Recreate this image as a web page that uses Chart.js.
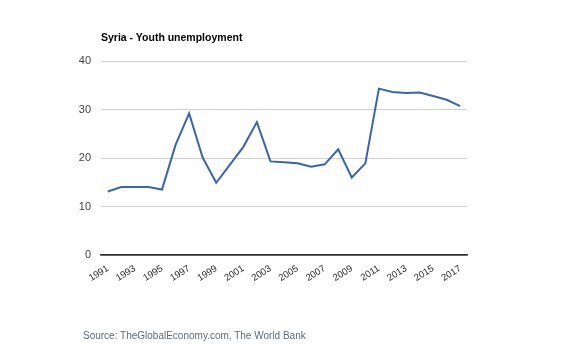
<!DOCTYPE html>
<html>
<head>
<meta charset="utf-8">
<script src="https://cdn.jsdelivr.net/npm/chart.js@4"></script>
<style>
  html, body { margin: 0; padding: 0; background: #fff; }
  #wrap { position: relative; width: 568px; height: 355px; }
  #title { position: absolute; left: 101px; top: 31px; font: bold 10.5px "Liberation Sans", Arial, sans-serif; color: #000; white-space: nowrap; }
  #source { position: absolute; left: 83px; top: 330px; font: 10px "Liberation Sans", Arial, sans-serif; color: #5f6b77; white-space: nowrap; }
</style>
</head>
<body>
<div id="wrap">
  <canvas id="c" width="568" height="355"></canvas>
  <div id="title">Syria - Youth unemployment</div>
  <div id="source">Source: TheGlobalEconomy.com, The World Bank</div>
</div>
<script>
const years = ["1991","1992","1993","1994","1995","1996","1997","1998","1999","2000","2001","2002","2003","2004","2005","2006","2007","2008","2009","2010","2011","2012","2013","2014","2015","2016","2017"];
const youthUnemployment = [13.1, 14.0, 14.0, 14.0, 13.5, 22.7, 29.2, 20.1, 14.9, 18.6, 22.3, 27.4, 19.3, 19.1, 18.9, 18.2, 18.7, 21.8, 16.0, 18.9, 34.3, 33.6, 33.4, 33.5, 32.8, 32.0, 30.7];
const yTicks = [0, 10, 20, 30, 40];

new Chart(document.getElementById('c'), {
  type: 'line',
  data: {
    labels: years,
    datasets: [{
      data: youthUnemployment,
      borderColor: '#3a64ad',
      borderWidth: 2,
      pointRadius: 0,
      tension: 0,
      fill: false
    }]
  },
  options: {
    responsive: false,
    animation: false,
    layout: { padding: { left: 71, right: 101, top: 61, bottom: 55 } },
    plugins: { legend: { display: false }, tooltip: { enabled: false }, title: { display: false } },
    scales: {
      x: {
        offset: true,
        grid: { display: false, drawTicks: false },
        border: { display: true, color: '#333', width: 1.5 },
        afterFit: (s) => { s.height = 45; },
        ticks: {
          autoSkip: false,
          minRotation: 32,
          maxRotation: 32,
          padding: 8,
          color: '#222',
          font: { family: '"Liberation Sans", Arial, sans-serif', size: 9.5 },
          callback: function(v, i) { return i % 2 === 0 ? years[i] : ''; }
        }
      },
      y: {
        min: yTicks[0],
        max: yTicks[yTicks.length - 1],
        afterBuildTicks: (s) => { s.ticks = yTicks.map(v => ({ value: v })); },
        afterFit: (s) => { s.width = 30; },
        border: { display: false },
        grid: {
          drawTicks: false,
          color: (ctx) => ctx.tick && ctx.tick.value === 0 ? '#333' : '#d0d0d0',
          lineWidth: (ctx) => ctx.tick && ctx.tick.value === 0 ? 1.5 : 1
        },
        ticks: {
          padding: 10,
          color: '#444',
          font: { family: '"Liberation Sans", Arial, sans-serif', size: 11 }
        }
      }
    }
  }
});
</script>
</body>
</html>
